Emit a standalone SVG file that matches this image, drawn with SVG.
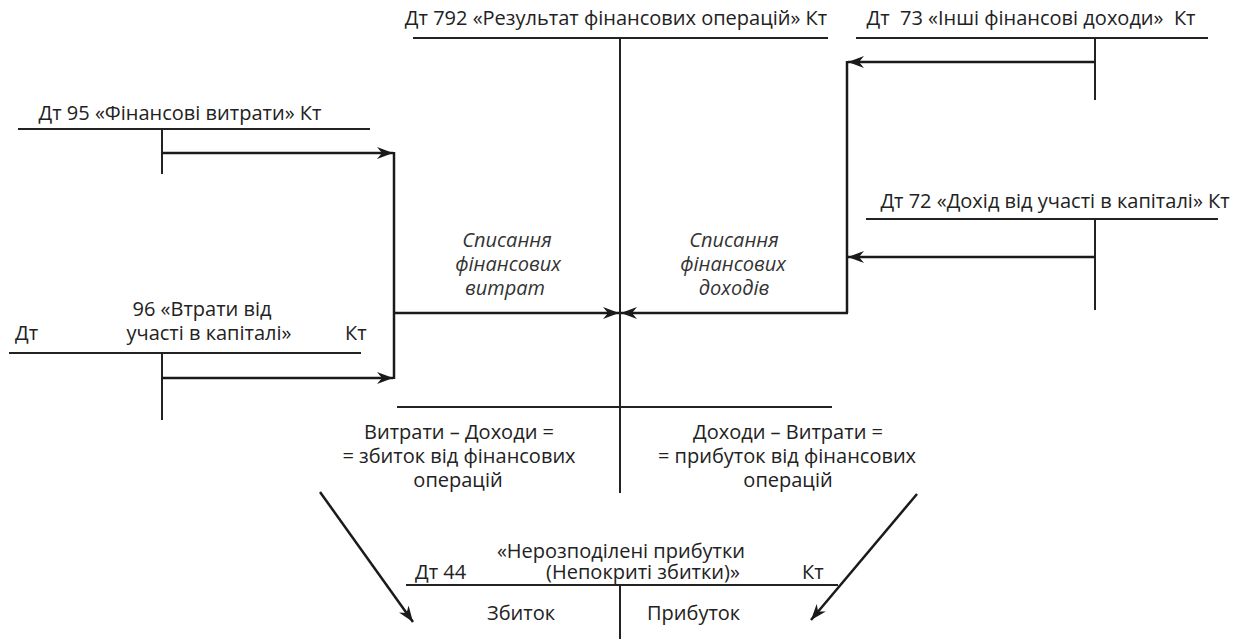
<svg xmlns="http://www.w3.org/2000/svg" width="1242" height="639" viewBox="0 0 1242 639">
  <style>
    .t { font-family: "Open Sans", "Noto Sans", "DejaVu Sans", sans-serif; font-size: 20px; fill: #222; }
    .i { font-family: "Open Sans", "Noto Sans", "DejaVu Sans", sans-serif; font-size: 20px; font-style: italic; fill: #333; }
    .m { text-anchor: middle; }
    .pre { white-space: pre; }
    .acc { stroke: #222; stroke-width: 2; fill: none; }
    .con { stroke: #1a1a1a; stroke-width: 2.5; fill: none; }
  </style>
  <defs>
    <marker id="dart" viewBox="0 0 16 12" refX="16" refY="6" markerWidth="16" markerHeight="12" markerUnits="userSpaceOnUse" orient="auto">
      <path d="M0,0 L16,6 L0,12 L5,6 Z" fill="#1a1a1a"/>
    </marker>
  </defs>
  <rect width="1242" height="639" fill="#fff"/>

  <!-- account 792 -->
  <g id="acc792">
    <text class="t m" x="616" y="25">Дт 792 «Результат фінансових операцій» Кт</text>
    <path class="acc" d="M413,38 H828 M620,38 V493 M397,407 H832"/>
    <text class="t m" x="459" y="439">Витрати – Доходи =</text>
    <text class="t m" x="459" y="463">= збиток від фінансових</text>
    <text class="t m" x="458" y="487">операцій</text>
    <text class="t m" x="788" y="439">Доходи – Витрати =</text>
    <text class="t m" x="787" y="463">= прибуток від фінансових</text>
    <text class="t m" x="788" y="487">операцій</text>
  </g>

  <!-- account 73 -->
  <g id="acc73">
    <text class="t m pre" x="1031" y="25">Дт  73 «Інші фінансові доходи»  Кт</text>
    <path class="acc" d="M856,38 H1208 M1095,38 V100"/>
  </g>

  <!-- account 72 -->
  <g id="acc72">
    <text class="t m" x="1055" y="208">Дт 72 «Дохід від участі в капіталі» Кт</text>
    <path class="acc" d="M866,219 H1218 M1095,219 V310"/>
  </g>

  <!-- account 95 -->
  <g id="acc95">
    <text class="t m" x="180" y="120">Дт 95 «Фінансові витрати» Кт</text>
    <path class="acc" d="M18,129 H370 M162,129 V174"/>
  </g>

  <!-- account 96 -->
  <g id="acc96">
    <text class="t m" x="202" y="316">96 «Втрати від</text>
    <text class="t m" x="209" y="340">участі в капіталі»</text>
    <text class="t" x="15" y="340">Дт</text>
    <text class="t" x="345" y="340">Кт</text>
    <path class="acc" d="M9,353 H361 M162,353 V420"/>
  </g>

  <!-- account 44 -->
  <g id="acc44">
    <text class="t m" x="621" y="558">«Нерозподілені прибутки</text>
    <text class="t m" x="643" y="579">(Непокриті збитки)»</text>
    <text class="t" x="415" y="579">Дт 44</text>
    <text class="t" x="802" y="579">Кт</text>
    <path class="acc" d="M406,585 H838 M620,585 V639"/>
    <text class="t" x="487" y="620">Збиток</text>
    <text class="t" x="647" y="620">Прибуток</text>
  </g>

  <!-- write-off labels -->
  <g id="labels">
    <text class="i m" x="507" y="247">Списання</text>
    <text class="i m" x="508" y="271">фінансових</text>
    <text class="i m" x="505" y="295">витрат</text>
    <text class="i m" x="734" y="247">Списання</text>
    <text class="i m" x="733" y="271">фінансових</text>
    <text class="i m" x="734" y="295">доходів</text>
  </g>

  <!-- connectors -->
  <g id="connectors">
    <path class="con" d="M162,153 H393" marker-end="url(#dart)"/>
    <path class="con" d="M162,378 H393" marker-end="url(#dart)"/>
    <path class="con" d="M394,152 V379"/>
    <path class="con" d="M394,313 H619" marker-end="url(#dart)"/>
    <path class="con" d="M1095,62 H848" marker-end="url(#dart)"/>
    <path class="con" d="M1095,257 H848" marker-end="url(#dart)"/>
    <path class="con" d="M847,61 V313"/>
    <path class="con" d="M848,313 H621" marker-end="url(#dart)"/>
    <path class="con" d="M320,492 L413,622" marker-end="url(#dart)"/>
    <path class="con" d="M917,494 L811,620" marker-end="url(#dart)"/>
  </g>
</svg>
